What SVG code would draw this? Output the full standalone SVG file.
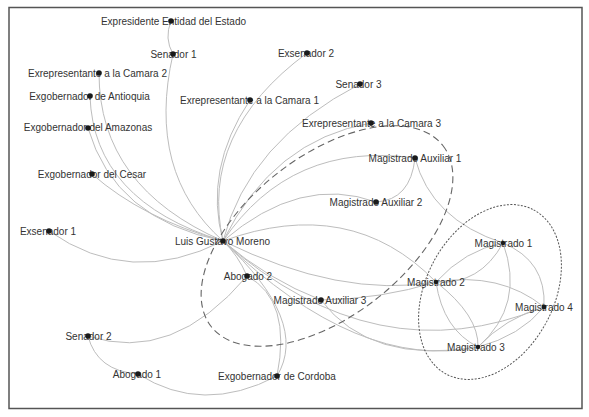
<svg xmlns="http://www.w3.org/2000/svg" width="589" height="417" viewBox="0 0 589 417">
<style>
.e{fill:none;stroke:#bdbdbd;stroke-width:1}
.lbl{font-family:"Liberation Sans",Arial,sans-serif;font-size:10px;fill:#333;text-anchor:middle}
.dot{fill:#1a1a1a}
.grp1{fill:none;stroke:#666;stroke-width:1.1;stroke-dasharray:7 4}
.grp2{fill:none;stroke:#555;stroke-width:1;stroke-dasharray:2 1.5}
</style>
<rect x="0" y="0" width="589" height="417" fill="#fff"/>
<rect x="9" y="7.5" width="573" height="401" fill="#fff" stroke="#555" stroke-width="1.5"/>
<g id="connectors">
<path class="e" d="M171,21 Q164,38.5 173,54"/>
<path class="e" d="M173,54 Q146,172.5 223,241"/>
<path class="e" d="M99,73 Q99,187 223,241"/>
<path class="e" d="M90,96 Q93.5,201 223,241"/>
<path class="e" d="M88,128 Q114.5,219.5 223,241"/>
<path class="e" d="M92,174 Q142.5,218.5 223,241"/>
<path class="e" d="M49,231 Q130,288 223,241"/>
<path class="e" d="M250,100 Q203.5,169.5 223,241"/>
<path class="e" d="M307,53 Q199,133 223,241"/>
<path class="e" d="M360,84 Q248.5,141.5 223,241"/>
<path class="e" d="M371,123 Q273,140 223,241"/>
<path class="e" d="M415,158 Q291,140.5 223,241"/>
<path class="e" d="M376,202 Q300.5,174.5 223,241"/>
<path class="e" d="M223,241 Q350.5,194.5 436,282"/>
<path class="e" d="M223,241 Q340.5,298.5 436,282"/>
<path class="e" d="M223,241 Q268,279.5 321,300"/>
<path class="e" d="M223,241 Q376.5,376 544,307"/>
<path class="e" d="M223,241 Q359.5,372 478,347"/>
<path class="e" d="M321,300 Q381.5,299 436,282"/>
<path class="e" d="M321,300 Q370,365 478,347"/>
<path class="e" d="M223,241 Q238,255 247,276"/>
<path class="e" d="M223,241 Q310,321.5 277,376"/>
<path class="e" d="M247,276 Q292,300 277,376"/>
<path class="e" d="M247,276 Q172.5,364 88,336"/>
<path class="e" d="M88,336 Q97,371 138,374"/>
<path class="e" d="M138,374 Q202.5,415 277,376"/>
<path class="e" d="M415,158 Q410.5,200 376,202"/>
<path class="e" d="M415,158 Q431,219.5 503,243"/>
<path class="e" d="M503,243 Q480,285 436,282"/>
<path class="e" d="M503,243 Q465,250 436,282"/>
<path class="e" d="M503,243 Q525.5,305 478,347"/>
<path class="e" d="M503,243 Q546.5,261 544,307"/>
<path class="e" d="M436,282 Q500,271.5 544,307"/>
<path class="e" d="M436,282 Q443,329.5 478,347"/>
<path class="e" d="M436,282 Q479,315.5 478,347"/>
<path class="e" d="M478,347 Q505,318 544,307"/>
<path class="e" d="M478,347 Q520,336 544,307"/>
</g>
<g id="clusters">
<ellipse class="grp1" cx="327" cy="236" rx="147" ry="80" transform="rotate(-38 327 236)"/>
<ellipse class="grp2" cx="490" cy="292" rx="93" ry="64" transform="rotate(-62 490 292)"/>
</g>
<g id="n-expresidente"><text class="lbl" x="173.5" y="24.5">Expresidente Entidad del Estado</text><circle class="dot" cx="171" cy="21" r="2.8"/></g>
<g id="n-senador1"><text class="lbl" x="173.5" y="57.5">Senador 1</text><circle class="dot" cx="173" cy="54" r="2.8"/></g>
<g id="n-exrep2"><text class="lbl" x="97.5" y="76.5">Exrepresentante a la Camara 2</text><circle class="dot" cx="99" cy="73" r="2.8"/></g>
<g id="n-antioquia"><text class="lbl" x="89.5" y="99.5">Exgobernador de Antioquia</text><circle class="dot" cx="90" cy="96" r="2.8"/></g>
<g id="n-amazonas"><text class="lbl" x="88" y="131">Exgobernador del Amazonas</text><circle class="dot" cx="88" cy="128" r="2.8"/></g>
<g id="n-cesar"><text class="lbl" x="92" y="177.5">Exgobernador del Cesar</text><circle class="dot" cx="92" cy="174" r="2.8"/></g>
<g id="n-exrep1"><text class="lbl" x="249.5" y="103.5">Exrepresentante a la Camara 1</text><circle class="dot" cx="250" cy="100" r="2.8"/></g>
<g id="n-exsenador2"><text class="lbl" x="306" y="56.5">Exsenador 2</text><circle class="dot" cx="307" cy="53" r="2.8"/></g>
<g id="n-senador3"><text class="lbl" x="358.5" y="87.5">Senador 3</text><circle class="dot" cx="360" cy="84" r="2.8"/></g>
<g id="n-exrep3"><text class="lbl" x="371.5" y="126.5">Exrepresentante a la Camara 3</text><circle class="dot" cx="371" cy="123" r="2.8"/></g>
<g id="n-magaux1"><text class="lbl" x="415" y="161.5">Magistrado Auxiliar 1</text><circle class="dot" cx="415" cy="158" r="2.8"/></g>
<g id="n-magaux2"><text class="lbl" x="376" y="205.5">Magistrado Auxiliar 2</text><circle class="dot" cx="376" cy="202" r="2.8"/></g>
<g id="n-exsenador1"><text class="lbl" x="48" y="234.5">Exsenador 1</text><circle class="dot" cx="49" cy="231" r="2.8"/></g>
<g id="n-lgm"><text class="lbl" x="222.5" y="244.5">Luis Gustavo Moreno</text><circle class="dot" cx="223" cy="241" r="2.8"/></g>
<g id="n-abogado2"><text class="lbl" x="248" y="279.5">Abogado 2</text><circle class="dot" cx="247" cy="276" r="2.8"/></g>
<g id="n-magaux3"><text class="lbl" x="320" y="303.5">Magistrado Auxiliar 3</text><circle class="dot" cx="321" cy="300" r="2.8"/></g>
<g id="n-senador2"><text class="lbl" x="88.5" y="339.5">Senador 2</text><circle class="dot" cx="88" cy="336" r="2.8"/></g>
<g id="n-abogado1"><text class="lbl" x="137" y="377.5">Abogado 1</text><circle class="dot" cx="138" cy="374" r="2.8"/></g>
<g id="n-cordoba"><text class="lbl" x="277" y="379.5">Exgobernador de Cordoba</text><circle class="dot" cx="277" cy="376" r="2.8"/></g>
<g id="n-mag1"><text class="lbl" x="503.5" y="246.5">Magistrado 1</text><circle class="dot" cx="503" cy="243" r="2.2"/></g>
<g id="n-mag2"><text class="lbl" x="436" y="285.5">Magistrado 2</text><circle class="dot" cx="436" cy="282" r="2.2"/></g>
<g id="n-mag4"><text class="lbl" x="544" y="310.5">Magistrado 4</text><circle class="dot" cx="544" cy="307" r="2.4"/></g>
<g id="n-mag3"><text class="lbl" x="476" y="350.5">Magistrado 3</text><circle class="dot" cx="478" cy="347" r="2.2"/></g>
</svg>
